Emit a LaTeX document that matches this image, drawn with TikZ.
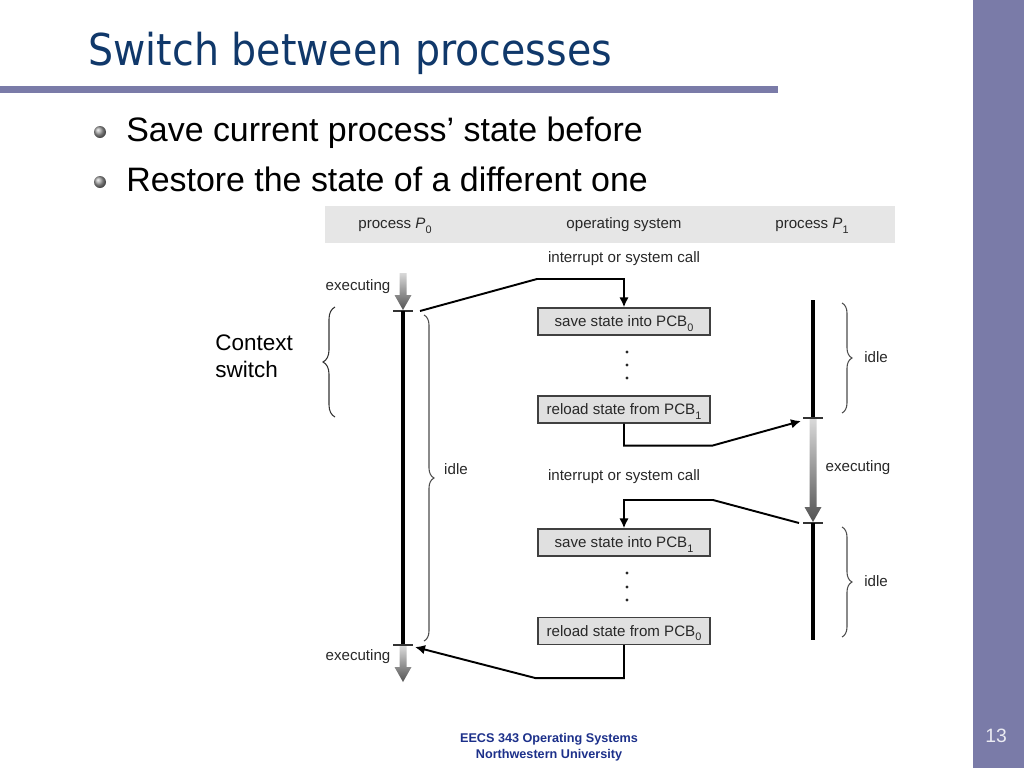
\documentclass[tikz,border=0pt]{standalone}
\usepackage{fontspec}
\setmainfont{Liberation Sans}
\newfontfamily\titlefont[FakeStretch=0.9]{DejaVu Sans}
\usetikzlibrary{arrows.meta}
\usetikzlibrary{decorations.pathreplacing}
\usepackage{xcolor}

\definecolor{sidebar}{RGB}{122,123,168}
\definecolor{titleblue}{RGB}{16,56,106}
\definecolor{footblue}{RGB}{28,48,138}
\definecolor{headgray}{RGB}{230,230,230}
\definecolor{boxgray}{RGB}{224,224,224}
\definecolor{inkgray}{RGB}{40,40,40}

\newcommand{\dfont}{\fontsize{8.6}{10}\selectfont}
\newcommand{\lowsub}[1]{\smash{\raisebox{-0.55ex}{\fontsize{6.2}{7}\selectfont #1}}}
% shaded "executing" arrow: x, top, tip
\newcommand{\execarrow}[3]{%
 \shade[top color=gray!30, bottom color=gray!65!black]
  (#1-3.5,#2) -- (#1+3.5,#2) -- (#1+3.5,#3-15) -- (#1+8.5,#3-15) -- (#1,#3)
  -- (#1-8.5,#3-15) -- (#1-3.5,#3-15) -- cycle;}

\tikzset{
 osbox/.style={draw=black!75, line width=0.8pt, fill=boxgray, text=inkgray,
  minimum width=3.44cm, minimum height=0.54cm, inner sep=0pt, font=\dfont},
 lbl/.style={inner sep=0pt, text=inkgray, font=\dfont},
 conn/.style={line width=1.1pt, -{Latex[length=0.2cm,width=0.19cm]}},
 timeline/.style={line width=2.3pt},
 tick/.style={line width=0.6pt, black!80},
 idlebrace/.style={decorate, decoration={brace, amplitude=0.2cm}, line width=0.6pt, black!70},
}

\begin{document}
\begin{tikzpicture}[x=0.02cm, y=-0.02cm]
\useasboundingbox (0,0) rectangle (1024,768);
% slide frame
\fill[sidebar] (973,0) rectangle (1024,768);
\fill[sidebar] (0,86) rectangle (778,93);
\node[anchor=base west, inner sep=0pt, text=titleblue, font=\titlefont\fontsize{25}{30}\selectfont] (title) at (88,65) {Switch between processes};
\foreach \y/\txt [count=\i] in {141/{Save current process’ state before}, 191/{Restore the state of a different one}} {
 \shade[ball color=gray!75] (100,\y-9) circle (6);
 \node[anchor=base west, inner sep=0pt, font=\fontsize{19.3}{23}\selectfont] (bullet\i) at (126,\y) {\txt};
}
\node[anchor=north west, inner sep=0pt, align=left, font=\fontsize{12.8}{15.9}\selectfont] (ctx) at (215,334) {Context\\switch};
\draw[decorate, decoration={brace, amplitude=0.24cm}, line width=0.6pt, black!80] (335,417) -- (335,307);

% header
\fill[headgray] (325,206) rectangle (895,243);
\node[lbl] (hp0) at (395,225) {process \textit{P}\lowsub{0}};
\node[lbl] (hos) at (624,225) {operating system};
\node[lbl] (hp1) at (812,225) {process \textit{P}\lowsub{1}};

% process P0
\execarrow{403}{273}{310}
\draw[tick] (393,311) -- (413,311);
\draw[timeline] (403,311) -- (403,645);
\draw[tick] (393,645) -- (413,645);
\execarrow{403}{646}{682}
\node[lbl] (ex0a) at (358,287) {executing};
\node[lbl] (ex0b) at (358,657) {executing};
\draw[idlebrace] (424,315) -- (424,641);
\node[lbl] (idle0) at (456,469) {idle};

% process P1
\draw[timeline] (813,300) -- (813,418);
\draw[tick] (803,418) -- (823,418);
\execarrow{813}{419}{522}
\draw[tick] (803,523) -- (823,523);
\draw[timeline] (813,523) -- (813,640);
\draw[idlebrace] (842,303) -- (842,413);
\draw[idlebrace] (842,527) -- (842,637);
\node[lbl] (idle1a) at (876,357) {idle};
\node[lbl] (ex1) at (858,468) {executing};
\node[lbl] (idle1b) at (876,581) {idle};

% operating system
\node[lbl] (irq0) at (624,259) {interrupt or system call};
\node[osbox] (save0) at (624,321.5) {save state into PCB\lowsub{0}};
\node[osbox] (reload1) at (624,409.5) {reload state from PCB\lowsub{1}};
\node[lbl] (irq1) at (624,477) {interrupt or system call};
\node[osbox] (save1) at (624,542.5) {save state into PCB\lowsub{1}};
\node[osbox] (reload0) at (624,631) {reload state from PCB\lowsub{0}};
\foreach \y in {352,365,378,573,587,600}
 \fill[inkgray] (627,\y) circle (1.6);

% switches
\coordinate (p0out) at (420,311);
\coordinate (p1in) at (801,421);
\coordinate (p1out) at (799,523);
\coordinate (p0in) at (415,647);
\draw[conn] (p0out) -- (537,279) -| (save0.north);
\draw[conn] (reload1.south) -- ++(0,22) -- ++(88,0) -- (p1in);
\draw[conn] (p1out) -- (713,500) -| (save1.north);
\draw[conn] (reload0.south) -- ++(0,33) -- ++(-88,0) -- (p0in);

% footer
\node[anchor=north, inner sep=0pt, align=center, text=footblue, font=\bfseries\fontsize{7.2}{9}\selectfont] (foot) at (549,733) {EECS 343 Operating Systems\\Northwestern University};
\node[inner sep=0pt, text=white!85!sidebar, font=\fontsize{11}{13}\selectfont] (pageno) at (996,736) {13};
\end{tikzpicture}
\end{document}
